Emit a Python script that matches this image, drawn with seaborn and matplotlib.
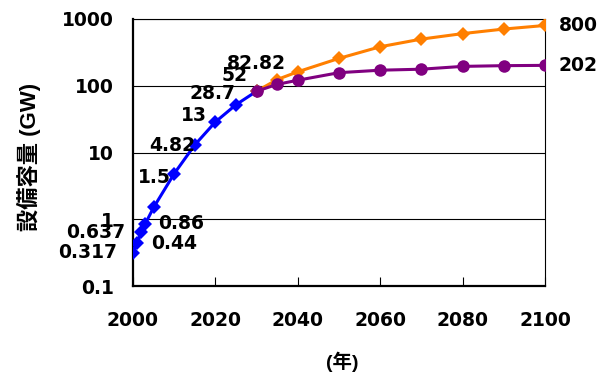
import matplotlib
matplotlib.use("Agg")
import matplotlib.pyplot as plt
from matplotlib.ticker import FixedLocator, NullLocator, FixedFormatter
import seaborn as sns
import pandas as pd

# Installed capacity (GW): historical build-out, then two long-range scenarios
years_hist = [2000, 2001, 2002, 2003, 2005, 2010, 2015, 2020, 2025, 2030]
cap_hist = [0.317, 0.44, 0.637, 0.86, 1.5, 4.82, 13, 28.7, 52, 82.82]

years_proj = [2030, 2035, 2040, 2050, 2060, 2070, 2080, 2090, 2100]
cap_high = [82.82, 124, 162, 257, 384, 500, 604, 707, 800]
cap_low = [82.82, 105, 121, 157, 171, 177, 195, 200, 202]

y_ticks = [0.1, 1, 10, 100, 1000]
y_tick_labels = ["0.1", "1", "10", "100", "1000"]
x_ticks = [2000, 2020, 2040, 2060, 2080, 2100]

sns.set_theme(style="white")
plt.rcParams["font.family"] = ["DejaVu Sans", "Noto Sans CJK JP"]
plt.rcParams["font.weight"] = "bold"
for key in ["text.color", "axes.labelcolor", "xtick.color", "ytick.color"]:
    plt.rcParams[key] = "black"
label_family = ["Liberation Sans", "Noto Sans CJK JP"]
num_size = 13.5

df_hist = pd.DataFrame({"year": years_hist, "cap": cap_hist})
df_high = pd.DataFrame({"year": years_proj, "cap": cap_high})
df_low = pd.DataFrame({"year": years_proj, "cap": cap_low})

fig = plt.figure(figsize=(5.97, 3.74), dpi=100)
ax = fig.add_axes([133 / 597, 1 - 286 / 374, 412 / 597, 267 / 374])

sns.lineplot(data=df_hist, x="year", y="cap", ax=ax, color="#0000FF",
             marker="D", markersize=6.8, markeredgewidth=0, linewidth=2.2, zorder=3)
sns.lineplot(data=df_high, x="year", y="cap", ax=ax, color="#FF7F00",
             marker="D", markersize=6.8, markeredgewidth=0, linewidth=2.2, zorder=3)
sns.lineplot(data=df_low, x="year", y="cap", ax=ax, color="#800080",
             marker="o", markersize=9, markeredgewidth=0, linewidth=2.2, zorder=4)

ax.set_yscale("log")
ax.set_ylim(0.1, 1000)
ax.set_xlim(2000, 2100)
ax.yaxis.set_major_locator(FixedLocator(y_ticks))
ax.yaxis.set_major_formatter(FixedFormatter(y_tick_labels))
ax.yaxis.set_minor_locator(NullLocator())
ax.set_xticks(x_ticks)

ax.grid(axis="y", color="black", linewidth=0.8)
ax.grid(axis="x", visible=False)
ax.set_axisbelow(True)

for side in ["left", "bottom"]:
    ax.spines[side].set_linewidth(1.6)
    ax.spines[side].set_color("black")
for side in ["top", "right"]:
    ax.spines[side].set_linewidth(0.8)
    ax.spines[side].set_color("black")

ax.tick_params(axis="x", bottom=True, direction="in", length=6.5, width=0.8,
               color="black", labelcolor="black", pad=18, labelsize=num_size)
ax.tick_params(axis="y", left=False, length=0, pad=14, labelcolor="black",
               labelsize=num_size)
for lab in ax.get_xticklabels() + ax.get_yticklabels():
    lab.set_fontweight("bold")

# value labels on the data points (offsets in pixels)
label_pts = [
    (years_hist[0], cap_hist[0], (-16, 0), "right"),
    (years_hist[1], cap_hist[1], (14, 0), "left"),
    (years_hist[2], cap_hist[2], (-16, 0), "right"),
    (years_hist[3], cap_hist[3], (13, 0), "left"),
    (years_hist[4], cap_hist[4], (1, 30), "center"),
    (years_hist[5], cap_hist[5], (-2, 28), "center"),
    (years_hist[6], cap_hist[6], (-1, 29), "center"),
    (years_hist[7], cap_hist[7], (-3, 28), "center"),
    (years_hist[8], cap_hist[8], (-1, 29), "center"),
    (years_hist[9], cap_hist[9], (0, 28), "center"),
    (years_proj[-1], cap_high[-1], (14, 0), "left"),
    (years_proj[-1], cap_low[-1], (14, 0), "left"),
]
for x, v, off, ha in label_pts:
    ax.annotate(f"{v:g}", xy=(x, v), xytext=off, textcoords="offset pixels",
                ha=ha, va="center", fontsize=num_size, fontweight="bold",
                color="black", annotation_clip=False, zorder=5)

ax.set_ylabel("設備容量 (GW)", fontsize=16, fontweight="bold",
              family=label_family, color="black")
ax.yaxis.label.set_va("center")
ax.yaxis.set_label_coords((28.5 - 133) / 412, (286 - 157) / 267)
ax.set_xlabel("(年)", fontsize=14, fontweight="bold", family=label_family,
              color="black")
ax.xaxis.label.set_va("center")
ax.xaxis.set_label_coords((342 - 133) / 412, (286 - 362) / 267)

fig.savefig("out.png", dpi=100, facecolor="white")
